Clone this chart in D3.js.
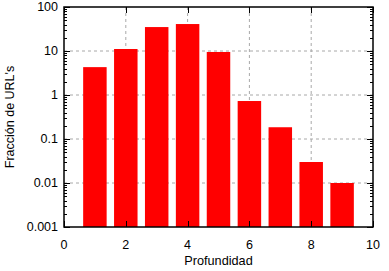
<!DOCTYPE html>
<html>
<head>
<meta charset="utf-8">
<script src="https://cdn.jsdelivr.net/npm/d3@7"></script>
<style>
  body { margin: 0; background: #fff; }
  svg { font-family: "Liberation Sans", Arial, sans-serif; }
</style>
</head>
<body>
<svg id="chart"></svg>
<script>
// profundidad vs fraccion de URLs (log scale)
const depths = [1, 2, 3, 4, 5, 6, 7, 8, 9];
const fractions = [4.3, 11.1, 35, 41, 9.5, 0.73, 0.185, 0.030, 0.010];
const x_ticks = [0, 2, 4, 6, 8, 10];
const y_ticks = [0.001, 0.01, 0.1, 1, 10, 100];
const y_tick_labels = ["0.001", "0.01", "0.1", "1", "10", "100"];

const svg_dims = {width: 389, height: 271};
const margin = {top: 7, right: 16, bottom: 44, left: 64};
const width = svg_dims.width - margin.left - margin.right;
const height = svg_dims.height - margin.top - margin.bottom;

const svg = d3.select('#chart')
    .attr("width", svg_dims.width)
    .attr("height", svg_dims.height);

const g = svg.append("g")
    .attr("transform", "translate(" + margin.left + "," + margin.top + ")");

var x_scale = d3.scaleLinear().domain([0, 10]).range([0, width]);
var y_scale = d3.scaleLog().domain([0.001, 100]).range([height, 0]);

// grid lines
const grid_color = "#a8a8a8";
g.selectAll(".xgrid")
  .data(x_ticks.slice(1, -1))
  .enter().append("line")
  .attr("x1", d => x_scale(d)).attr("x2", d => x_scale(d))
  .attr("y1", 0).attr("y2", height)
  .attr("stroke", grid_color).attr("stroke-dasharray", "3,3");

g.selectAll(".ygrid")
  .data(y_ticks.slice(1, -1))
  .enter().append("line")
  .attr("x1", 0).attr("x2", width)
  .attr("y1", d => y_scale(d)).attr("y2", d => y_scale(d))
  .attr("stroke", grid_color).attr("stroke-dasharray", "3,3");

// bars
const bar_w = x_scale(0.76) - x_scale(0);
g.selectAll(".bar")
  .data(depths)
  .enter().append("rect")
  .attr("x", (d) => x_scale(d) - bar_w / 2)
  .attr("y", (d, i) => y_scale(fractions[i]))
  .attr("width", bar_w)
  .attr("height", (d, i) => height - y_scale(fractions[i]))
  .attr("fill", "#ff0000");

// ticks (mirrored, gnuplot style)
const minor = [];
y_ticks.slice(0, -1).forEach(function(t) {
  for (let k = 2; k <= 9; k++) minor.push(t * k);
});

const ticks = g.append("g").attr("stroke", "#000").attr("stroke-width", 1);
minor.forEach(function(v) {
  const y = Math.round(y_scale(v)) + 0.5;
  ticks.append("line").attr("x1", 0).attr("x2", 3).attr("y1", y).attr("y2", y);
  ticks.append("line").attr("x1", width - 3).attr("x2", width).attr("y1", y).attr("y2", y);
});
y_ticks.forEach(function(v) {
  const y = Math.round(y_scale(v)) + 0.5;
  ticks.append("line").attr("x1", 0).attr("x2", 6).attr("y1", y).attr("y2", y);
  ticks.append("line").attr("x1", width - 6).attr("x2", width).attr("y1", y).attr("y2", y);
});
x_ticks.forEach(function(v) {
  const x = Math.round(x_scale(v)) + 0.5;
  ticks.append("line").attr("x1", x).attr("x2", x).attr("y1", height).attr("y2", height - 6);
  ticks.append("line").attr("x1", x).attr("x2", x).attr("y1", 0).attr("y2", 6);
});

// frame
g.append("rect")
  .attr("x", 0).attr("y", 0)
  .attr("width", width).attr("height", height)
  .attr("fill", "none").attr("stroke", "#000").attr("stroke-width", 1.5);

// tick labels
g.selectAll(".ylab")
  .data(y_ticks)
  .enter().append("text")
  .attr("x", -6)
  .attr("y", d => y_scale(d))
  .attr("dy", "0.35em")
  .attr("text-anchor", "end")
  .attr("font-size", 12.5)
  .text((d, i) => y_tick_labels[i]);

g.selectAll(".xlab")
  .data(x_ticks)
  .enter().append("text")
  .attr("x", d => x_scale(d))
  .attr("y", height + 22)
  .attr("text-anchor", "middle")
  .attr("font-size", 12.5)
  .text(d => d);

// axis titles
svg.append("text")
  .attr("x", margin.left + width / 2)
  .attr("y", 265)
  .attr("text-anchor", "middle")
  .attr("font-size", 12.7)
  .text("Profundidad");

svg.append("text")
  .attr("transform", "translate(14," + (margin.top + height / 2) + ") rotate(-90)")
  .attr("text-anchor", "middle")
  .attr("font-size", 12.5)
  .text("Fracción de URL's");
</script>
</body>
</html>
